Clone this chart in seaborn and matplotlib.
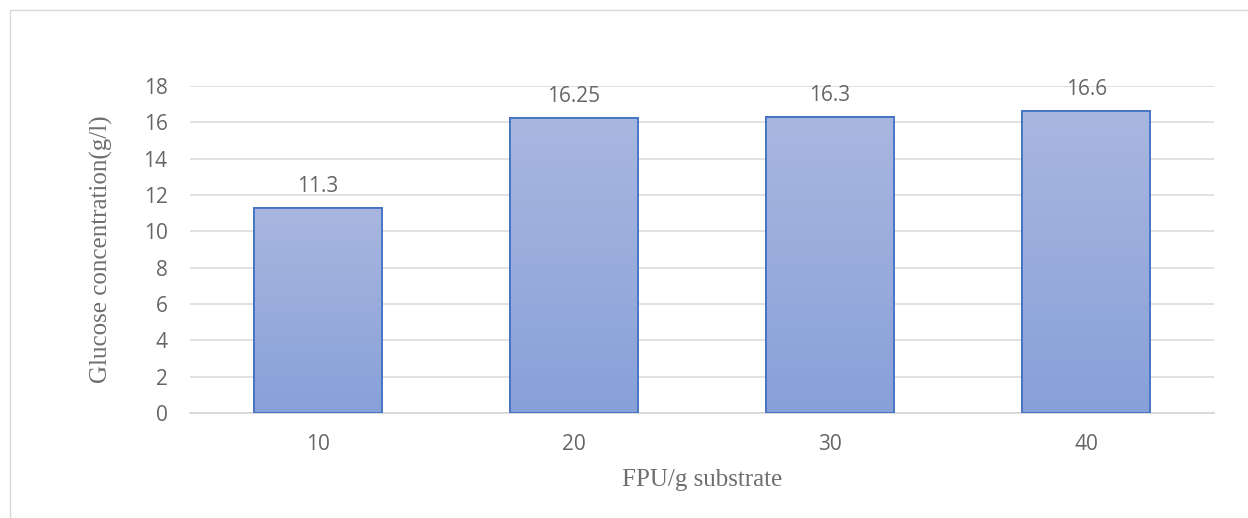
import numpy as np
import pandas as pd
import seaborn as sns
import matplotlib.pyplot as plt
from matplotlib.patches import Rectangle

# data
enzyme_load = ['10', '20', '30', '40']
glucose = [11.3, 16.25, 16.3, 16.6]
value_labels = ['11.3', '16.25', '16.3', '16.6']
y_ticks = [0, 2, 4, 6, 8, 10, 12, 14, 16, 18]

df = pd.DataFrame({'FPU/g substrate': enzyme_load, 'glucose': glucose})

sns.set_style('white')
plt.rcParams['font.family'] = ['Open Sans', 'DejaVu Sans']

fig = plt.figure(figsize=(12.48, 5.18), dpi=100)
ax = fig.add_axes([0.152, 0.2027, 0.821, 0.6313])

sns.barplot(data=df, x='FPU/g substrate', y='glucose', width=0.5,
            color='#98ACDC', edgecolor='#4472C4', linewidth=1.3, ax=ax, zorder=3)

# Excel-like vertical gradient in each bar
grad = np.linspace(0, 1, 256).reshape(-1, 1)
top = np.array([169, 183, 224]) / 255
bot = np.array([136, 160, 216]) / 255
img = top + (bot - top) * grad[..., None]
img = img.reshape(256, 1, 3)
for p in ax.patches:
    x0, y0 = p.get_x(), p.get_y()
    w, h = p.get_width(), p.get_height()
    im = ax.imshow(img, extent=[x0, x0 + w, y0, y0 + h], aspect='auto',
                   zorder=3.5, interpolation='bilinear')
    im.set_clip_path(p)
    edge = Rectangle((x0, y0), w, h, fill=False, edgecolor='#4472C4',
                     linewidth=1.3, zorder=4)
    ax.add_patch(edge)

for i, (v, t) in enumerate(zip(glucose, value_labels)):
    ax.annotate(t, (i, v), xytext=(0, 8), textcoords='offset points',
                ha='center', va='bottom', fontsize=15, color='#666666')

ax.set_xlim(-0.5, 3.5)
ax.set_ylim(0, 18)
ax.set_yticks(y_ticks)
ax.yaxis.grid(True, color='#D9D9D9', linewidth=1.1, zorder=0)
ax.set_axisbelow(True)
for s in ['top', 'right', 'left']:
    ax.spines[s].set_visible(False)
ax.spines['bottom'].set_color('#D9D9D9')
ax.spines['bottom'].set_linewidth(1.4)
ax.tick_params(axis='both', length=0, labelsize=15, labelcolor='#666666')
ax.tick_params(axis='x', pad=15)
ax.tick_params(axis='y', pad=16)

ax.set_xlabel('FPU/g substrate', family='Liberation Serif', fontsize=18,
              color='#6E6E6E', labelpad=10)
ax.set_ylabel('Glucose concentration(g/l)', family='Liberation Serif',
              fontsize=18, color='#6E6E6E', labelpad=22)

# chart border
fig.patches.append(Rectangle((0.008, -0.01), 1.0, 0.99, transform=fig.transFigure,
                             fill=False, edgecolor='#D9D9D9', linewidth=1))

fig.savefig('out.png', dpi=100)
